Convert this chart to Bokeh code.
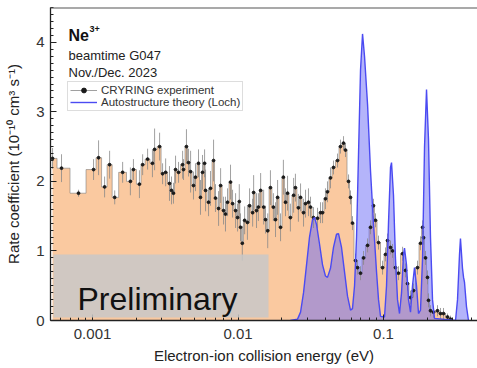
from bokeh.plotting import figure
from bokeh.models import (Label, Legend, LegendItem, BoxAnnotation, Span,
                          SingleIntervalTicker, CustomJSTickFormatter, Range1d,
                          ColumnDataSource)
from bokeh.embed import file_html
from bokeh.resources import INLINE

# ---------------- data ----------------
exp_energy = [0.000531, 0.000612, 0.000801, 0.001016, 0.00110, 0.00121, 0.00131, 0.00142,
              0.00161, 0.00182, 0.00191, 0.00210, 0.00221, 0.00239, 0.00258, 0.00267,
              0.00289, 0.00303, 0.00318, 0.00338, 0.00349, 0.00360, 0.00372, 0.00390,
              0.00416, 0.00422, 0.00442, 0.00457, 0.00472, 0.00494, 0.00510, 0.00535,
              0.00552, 0.00570, 0.00589, 0.00598, 0.00627, 0.00647, 0.00679, 0.00700,
              0.00735, 0.00759, 0.00795, 0.00820, 0.00847, 0.00888, 0.00917, 0.00962,
              0.00993, 0.0102, 0.0104, 0.0107, 0.0111, 0.0116, 0.0120, 0.0126,
              0.0128, 0.0134, 0.0138, 0.0143, 0.0150, 0.01545, 0.0160, 0.0167,
              0.0175, 0.0181, 0.0187, 0.0196, 0.0205, 0.0212, 0.0219, 0.0229,
              0.0241, 0.0248, 0.0260, 0.0269, 0.0282, 0.0291, 0.0305, 0.0315,
              0.0330, 0.0352, 0.0369, 0.0381, 0.0399, 0.0412, 0.0432, 0.0453,
              0.0483, 0.0506, 0.0531, 0.0548, 0.0575, 0.0593, 0.0612, 0.0642,
              0.0663, 0.0695, 0.0729, 0.0777, 0.0814, 0.0853, 0.0881, 0.0924,
              0.0985, 0.1032, 0.1065, 0.1117, 0.1153, 0.1208, 0.1267, 0.1352,
              0.1417, 0.1462, 0.1533, 0.1608, 0.1713, 0.1796, 0.1855, 0.1884,
              0.1944, 0.2006, 0.2038, 0.2103, 0.2206, 0.2350, 0.2464, 0.2585,
              0.2753, 0.2886]
exp_rate = [2.33, 2.19, 1.83, 2.17, 2.34, 1.92, 2.24, 1.77,
            2.13, 2.00, 2.17, 1.96, 2.24, 2.32, 2.26, 2.46,
            2.50, 2.11, 2.13, 1.97, 1.87, 1.83, 2.17, 2.13,
            2.24, 2.17, 2.50, 2.27, 2.14, 1.94, 2.06, 2.26,
            1.77, 2.13, 2.26, 1.87, 1.70, 1.90, 2.30, 1.76,
            1.61, 1.94, 1.58, 1.53, 1.70, 1.99, 1.68, 1.58,
            1.48, 1.71, 1.34, 1.11, 1.44, 1.41, 1.65, 1.55,
            1.84, 1.58, 1.63, 1.87, 1.63, 1.45, 1.29, 1.91,
            1.63, 1.45, 1.77, 1.34, 2.06, 1.70, 1.83, 1.48,
            1.80, 1.91, 1.62, 1.77, 1.55, 1.68, 1.70, 1.63,
            1.48, 1.47, 1.55, 1.55, 1.75, 1.85, 2.05, 2.20,
            2.30, 2.50, 2.55, 2.45, 2.00, 1.77, 1.40, 0.86,
            0.76, 0.68, 0.90, 1.08, 1.34, 1.65, 1.44, 1.12,
            0.76, 0.95, 1.15, 1.05, 1.00, 0.76, 0.68, 0.96,
            0.72, 0.53, 0.33, 0.43, 0.76, 1.11, 1.34, 1.19,
            0.90, 0.62, 0.29, 0.14, 0.12, 0.14, 0.10, 0.10,
            0.05, 0.02]
exp_err = [0.15, 0.20, 0.05, 0.15, 0.25, 0.15, 0.20, 0.10,
           0.15, 0.20, 0.15, 0.20, 0.15, 0.15, 0.20, 0.30,
           0.20, 0.15, 0.20, 0.25, 0.20, 0.15, 0.20, 0.15,
           0.20, 0.15, 0.25, 0.20, 0.30, 0.20, 0.20, 0.20,
           0.25, 0.25, 0.20, 0.30, 0.20, 0.25, 0.30, 0.20,
           0.25, 0.25, 0.20, 0.25, 0.20, 0.25, 0.20, 0.25,
           0.20, 0.25, 0.20, 0.25, 0.20, 0.25, 0.25, 0.20,
           0.25, 0.25, 0.20, 0.25, 0.25, 0.20, 0.25, 0.25,
           0.20, 0.25, 0.25, 0.20, 0.25, 0.20, 0.25, 0.20,
           0.25, 0.20, 0.20, 0.20, 0.20, 0.20, 0.20, 0.15,
           0.15, 0.15, 0.15, 0.15, 0.15, 0.15, 0.15, 0.10,
           0.10, 0.10, 0.10, 0.10, 0.10, 0.10, 0.10, 0.10,
           0.10, 0.10, 0.10, 0.10, 0.10, 0.10, 0.10, 0.10,
           0.10, 0.10, 0.10, 0.10, 0.10, 0.10, 0.10, 0.10,
           0.10, 0.10, 0.10, 0.10, 0.10, 0.10, 0.10, 0.10,
           0.10, 0.10, 0.10, 0.08, 0.08, 0.08, 0.08, 0.08,
           0.05, 0.05]

th_energy = [0.0229, 0.02564, 0.0269, 0.0282, 0.02957, 0.0310, 0.0325, 0.03356,
             0.03464, 0.03632, 0.0381, 0.0399, 0.0412, 0.0432, 0.0453, 0.04753,
             0.04906, 0.05145, 0.05395, 0.05657, 0.0593, 0.0612, 0.06322, 0.06525,
             0.06734, 0.0695, 0.07174, 0.07404, 0.0777, 0.0814, 0.0853, 0.08952,
             0.0924, 0.0954, 0.1016, 0.1049, 0.1082, 0.1117, 0.1135, 0.1171,
             0.1208, 0.1248, 0.1288, 0.1330, 0.1372, 0.1394, 0.1439, 0.1485,
             0.1533, 0.1582, 0.1633, 0.1686, 0.1740, 0.1796, 0.1855, 0.1914,
             0.1975, 0.2038, 0.2103, 0.2172, 0.2241, 0.3126, 0.3226, 0.3329,
             0.3380, 0.3491, 0.3550, 0.3603, 0.3718, 0.3838]
th_rate = [0.00, 0.02, 0.12, 0.40, 0.80, 1.20, 1.45, 1.48,
           1.38, 1.10, 0.80, 0.64, 0.62, 0.75, 1.05, 1.24,
           1.25, 1.05, 0.70, 0.35, 0.15, 0.17, 0.50, 1.20,
           2.40, 3.60, 4.12, 3.80, 3.10, 2.15, 1.40, 0.70,
           0.30, 0.06, 0.05, 0.50, 1.40, 2.20, 2.27, 1.80,
           0.90, 0.30, 0.10, 0.40, 0.95, 1.04, 0.80, 0.30,
           0.12, 0.50, 0.76, 0.50, 0.10, 0.15, 0.90, 2.50,
           3.32, 2.60, 1.20, 0.30, 0.03, 0.00, 0.30, 0.95,
           1.18, 0.75, 0.62, 0.55, 0.20, 0.00]

x_limits = [0.000514, 0.4426]
y_limits = [0.0, 4.5]

FONT = "Liberation Sans"

# ---------------- figure ----------------
p = figure(width=477, height=368, x_axis_type="log",
           x_range=Range1d(*x_limits), y_range=Range1d(*y_limits),
           output_backend="svg", toolbar_location=None,
           min_border_left=50, min_border_right=0, min_border_top=7, min_border_bottom=48)
p.outline_line_color = None
p.grid.visible = False
p.background_fill_color = "white"
p.border_fill_color = "white"

exp_src = ColumnDataSource(dict(e=exp_energy, r=exp_rate,
                                lo=[r - d for r, d in zip(exp_rate, exp_err)],
                                hi=[r + d for r, d in zip(exp_rate, exp_err)]))
th_src = ColumnDataSource(dict(e=th_energy, r=th_rate))

# experiment filled steps
p.varea_step(x="e", y1=0, y2="r", step_mode="center", source=exp_src,
             fill_color="#fac9a0", fill_alpha=1.0)
p.step(x="e", y="r", mode="center", source=exp_src, line_color="#777777",
       line_width=0.8, line_alpha=0.7)

# theory filled peaks
p.varea(x="e", y1=0, y2="r", source=th_src, fill_color="#6969f5", fill_alpha=0.5)

# experiment error bars and points
err_r = p.segment(x0="e", y0="lo", x1="e", y1="hi", source=exp_src,
                  line_color="#888888", line_width=0.8)
dot_r = p.scatter(x="e", y="r", source=exp_src, size=2.8, marker="circle",
                  fill_color="#1a1a1a", line_color="#1a1a1a")

th_line = p.line(x="e", y="r", source=th_src, line_color="#4b4bf2", line_width=1.4)

# ---------------- axes ----------------
for ax in (p.xaxis[0], p.yaxis[0]):
    ax.major_tick_out = 0
    ax.major_tick_in = 6
    ax.minor_tick_out = 0
    ax.minor_tick_in = 3
    ax.axis_line_color = "#222222"
    ax.axis_line_width = 1.3
    ax.major_tick_line_color = "#222222"
    ax.minor_tick_line_color = "#222222"
    ax.major_label_text_font = FONT
    ax.major_label_text_font_size = "15px"
    ax.major_label_text_color = "#333333"
    ax.axis_label_text_font = FONT
    ax.axis_label_text_font_size = "15px"
    ax.axis_label_text_font_style = "normal"
    ax.axis_label_text_color = "#222222"

p.xaxis.axis_label = "Electron-ion collision energy (eV)"
p.xaxis.formatter = CustomJSTickFormatter(code="return String(tick);")
p.xaxis.major_label_standoff = 8
p.xaxis.axis_label_standoff = 5

p.yaxis.axis_label = "Rate coefficient (10\u207b\u00b9\u2070 cm\u00b3 s\u207b\u00b9)"
p.yaxis.ticker = SingleIntervalTicker(interval=1, num_minor_ticks=10)
p.yaxis.major_label_standoff = 6
p.yaxis.axis_label_standoff = 11

# top frame line
p.add_layout(Span(location=y_limits[1], dimension="width", line_color="#555555",
                  line_width=2))

# ---------------- annotations ----------------
p.add_layout(BoxAnnotation(left=3, right=218, bottom=3, top=66,
                           left_units="screen", right_units="screen",
                           bottom_units="screen", top_units="screen",
                           fill_color="#c8c8c8", fill_alpha=0.85, line_color=None))
p.add_layout(Label(x=27, y=22, x_units="screen", y_units="screen", text="Preliminary",
                   text_font=FONT, text_font_size="32px", text_color="#111111",
                   text_baseline="alphabetic"))

p.add_layout(Label(x=18, y=285, x_units="screen", y_units="screen", text="Ne",
                   text_font=FONT, text_font_size="16px", text_font_style="bold",
                   text_color="#111111", text_baseline="alphabetic"))
p.add_layout(Label(x=39, y=292, x_units="screen", y_units="screen", text="3+",
                   text_font=FONT, text_font_size="9px", text_font_style="bold",
                   text_color="#111111", text_baseline="alphabetic"))
p.add_layout(Label(x=18, y=265, x_units="screen", y_units="screen", text="beamtime G047",
                   text_font=FONT, text_font_size="13px", text_color="#222222",
                   text_baseline="alphabetic"))
p.add_layout(Label(x=18, y=248, x_units="screen", y_units="screen", text="Nov./Dec. 2023",
                   text_font=FONT, text_font_size="13px", text_color="#222222",
                   text_baseline="alphabetic"))

legend = Legend(items=[LegendItem(label="CRYRING experiment", renderers=[err_r, dot_r]),
                       LegendItem(label="Autostructure theory (Loch)", renderers=[th_line])],
                location=(17, 209), label_text_font=FONT, label_text_font_size="11.5px",
                label_text_color="#333333", glyph_width=27, glyph_height=12,
                label_height=12, spacing=0, padding=2, margin=0, label_standoff=4,
                border_line_color="#bbbbbb", border_line_width=1,
                background_fill_color="white", background_fill_alpha=0.8)
p.add_layout(legend)

open("out.html", "w").write(file_html(p, INLINE))
